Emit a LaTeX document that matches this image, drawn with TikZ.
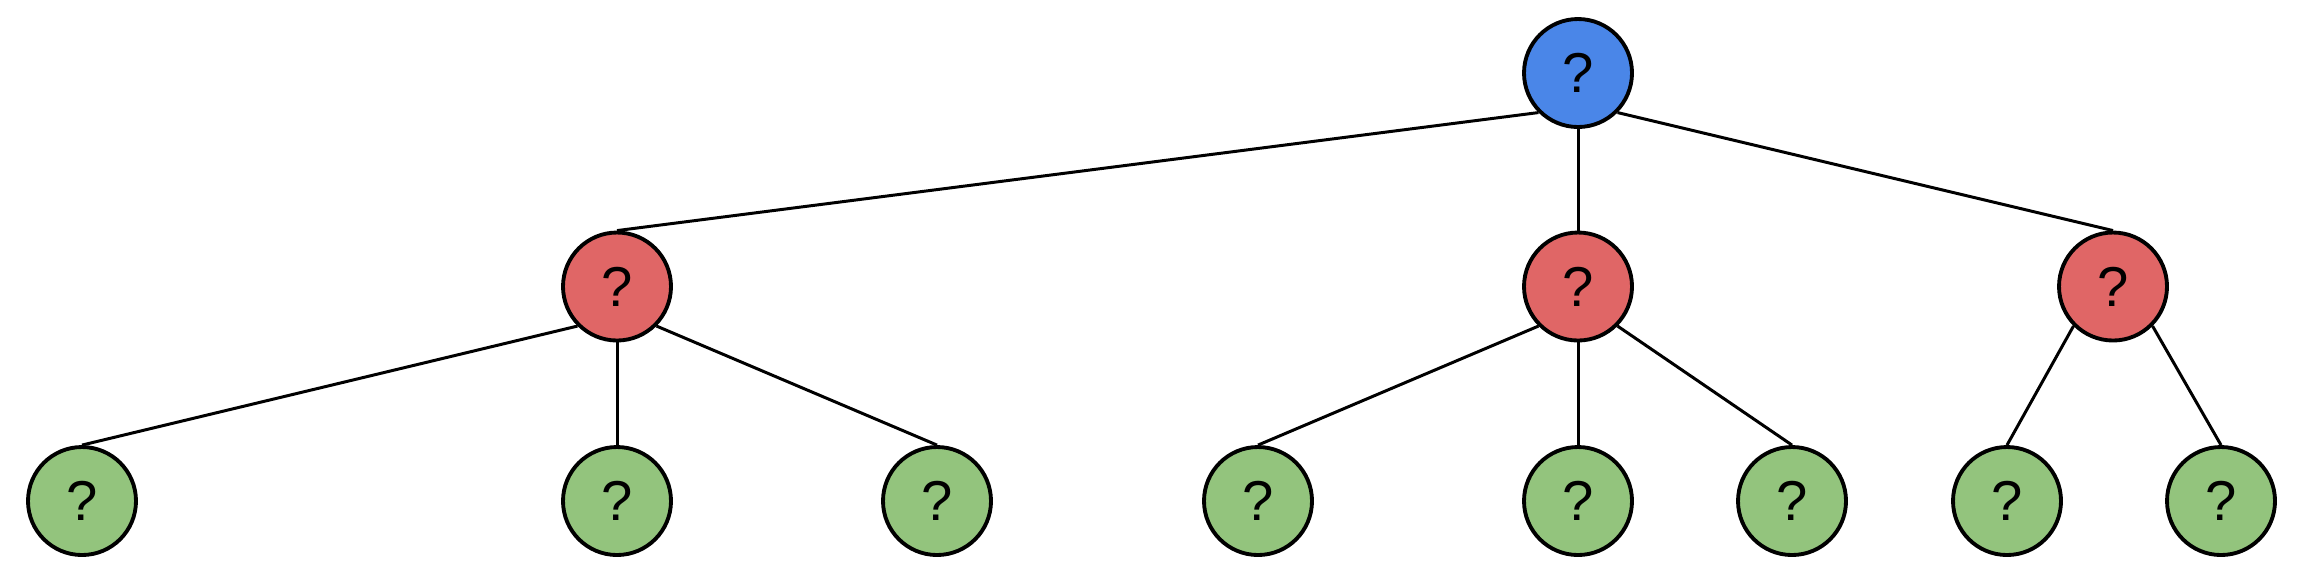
\documentclass[tikz,border=0pt]{standalone}
\usepackage{fontspec}
\setmainfont{Liberation Sans}
\definecolor{rootblue}{HTML}{4A86E8}
\definecolor{midred}{HTML}{E06666}
\definecolor{leafgreen}{HTML}{93C47D}
\begin{document}
\begin{tikzpicture}
  [every node/.style={circle,draw,line width=1.1pt,minimum size=1.08cm,inner sep=0pt,font=\fontsize{16}{19}\selectfont},
   top/.style={fill=rootblue}, mid/.style={fill=midred}, leaf/.style={fill=leafgreen}]
  \useasboundingbox (0,0) rectangle (23.04,-5.76);
  \node[top] (r) at (15.78,-0.73) {?};

  \node[mid] (a) at (6.17,-2.865) {?};
  \node[mid] (b) at (15.78,-2.865) {?};
  \node[mid] (c) at (21.13,-2.865) {?};

  \node[leaf] (a1) at (0.82,-5.01) {?};
  \node[leaf] (a2) at (6.17,-5.01) {?};
  \node[leaf] (a3) at (9.37,-5.01) {?};
  \node[leaf] (b1) at (12.58,-5.01) {?};
  \node[leaf] (b2) at (15.78,-5.01) {?};
  \node[leaf] (b3) at (17.92,-5.01) {?};
  \node[leaf] (c1) at (20.07,-5.01) {?};
  \node[leaf] (c2) at (22.21,-5.01) {?};

  \foreach \from/\side/\to in {r/south west/a,r/south/b,r/south east/c,
      a/south west/a1,a/south/a2,a/south east/a3,
      b/south west/b1,b/south/b2,b/south east/b3,
      c/south west/c1,c/south east/c2}
    \draw[line width=0.85pt] (\from.\side) -- (\to.north);
\end{tikzpicture}
\end{document}
